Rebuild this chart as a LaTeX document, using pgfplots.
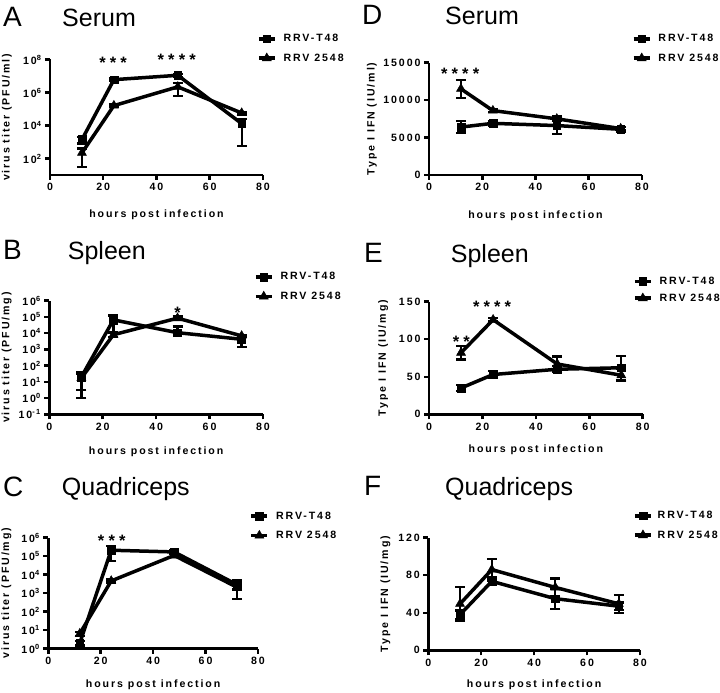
\documentclass[border=0pt]{standalone}
\usepackage{fontspec}
\setmainfont{Liberation Sans}
\newfontfamily\lab[LetterSpace=18]{Liberation Sans}
\newfontfamily\starf[LetterSpace=25]{Liberation Sans}
\usepackage{pgfplots}
\pgfplotsset{compat=1.18}
\usepackage{pgfplotstable}

% ---- data: x, mean, error plus, error minus ----
\pgfplotstableread{
x y ep em
12 1400 600 600
24 6e6 1e6 1e6
48 1.1e7 2e6 2e6
72 1.3e4 1.24e4 1.24e4
}\Asq
\pgfplotstableread{
x y ep em
12 220 190 190
24 1.6e5 3e4 3e4
48 2.2e6 1.6e6 1.6e6
72 5.7e4 1e4 1e4
}\Atr
\pgfplotstableread{
x y ep em
12 20 17 17
24 6.6e4 5.4e4 5.4e4
48 1.07e4 1.5e4 0
72 4.2e3 2.75e3 2.75e3
}\Bsq
\pgfplotstableread{
x y ep em
12 17 16 16
24 8e3 2e3 2e3
48 8.4e4 2e4 2e4
72 6.8e3 1e3 1e3
}\Btr
\pgfplotstableread{
x y ep em
12 2 0.5 0.5
24 2.1e5 1.55e5 1.55e5
48 1.7e5 3e4 3e4
72 2.9e3 2.4e3 2.4e3
}\Csq
\pgfplotstableread{
x y ep em
12 6.5 1.5 1.5
24 4.6e3 800 800
48 1.1e5 2e4 2e4
72 2.1e3 500 500
}\Ctr
\pgfplotstableread{
x y ep em
12 6400 800 800
24 6900 300 300
48 6600 1100 1100
72 6100 300 300
}\Dsq
\pgfplotstableread{
x y ep em
12 11500 1200 1200
24 8600 200 200
48 7500 300 300
72 6200 200 200
}\Dtr
\pgfplotstableread{
x y ep em
12 35 4 4
24 53 5 5
48 60 4 4
72 62 16 16
}\Esq
\pgfplotstableread{
x y ep em
12 82 9 9
24 126 2 2
48 67 10 10
72 52 8 8
}\Etr
\pgfplotstableread{
x y ep em
12 38 4.5 4.5
24 73.5 4 4
48 55 11 11
72 47 4 4
}\Fsq
\pgfplotstableread{
x y ep em
12 49.5 18 18
24 86 11.5 11.5
48 67 9.5 9.5
72 49.5 9.5 9.5
}\Ftr

\newcommand\labfont{\lab\bfseries\fontsize{10.6}{12}\selectfont}
\newcommand\starfont{\starf\bfseries\fontsize{16.5}{16}\selectfont}

\pgfplotsset{
  panel/.style={
    scale only axis,
    anchor=south west,
    xmin=0, xmax=80, xtick={0,20,40,60,80},
    axis x line*=bottom, axis y line*=left,
    axis line style={line width=2.5pt, -},
    tick align=outside,
    major tick length=5pt,
    every tick/.style={line width=2.5pt, black},
    tick label style={font=\labfont},
    /pgf/number format/assume math mode=true,
    /pgf/number format/1000 sep={},
    label style={font=\labfont},
    xlabel={hours post infection},
    yminorticks=false, xminorticks=false,
    clip=false,
    legend style={draw=none, fill=none, anchor=north west, inner sep=0pt, outer sep=0pt, font=\labfont, row sep=6.5pt, cells={anchor=west},
      /tikz/every odd column/.append style={column sep=5pt}},
    legend image code/.code={\draw[##1, mark repeat=2, mark phase=2] plot coordinates {(0pt,0pt) (8pt,0pt) (16pt,0pt)};},
  },
  pl/.style={black, line width=3.5pt,
    error bars/y dir=both, error bars/y explicit,
    error bars/error bar style={line width=2.3pt, solid, black},
    error bars/error mark options={rotate=90, mark size=5pt, line width=2.3pt, black}},
  sq/.style={pl, mark=square*, mark size=3.9pt, mark options={solid, fill=black, line width=0.5pt}},
  tri/.style={pl, mark=triangle*, mark size=5.2pt, mark options={solid, fill=black, line width=0.5pt}},
}

\newcommand\series[2]{%
  \addplot[sq] table[x=x, y=y, y error plus=ep, y error minus=em] {#1};
  \addlegendentry{RRV-T48}
  \addplot[tri] table[x=x, y=y, y error plus=ep, y error minus=em] {#2};
  \addlegendentry{RRV 2548}
}

\begin{document}
\begin{tikzpicture}
\useasboundingbox (0,0) rectangle (720pt,693pt);

% ---------- titles ----------
\node[anchor=base west, inner sep=0pt, font=\fontsize{28}{28}\selectfont] at (3pt,666pt) {A};
\node[anchor=base west, inner sep=0pt, font=\fontsize{25}{25}\selectfont] at (62pt,666pt) {Serum};
\node[anchor=base west, inner sep=0pt, font=\fontsize{28}{28}\selectfont] at (362pt,668pt) {D};
\node[anchor=base west, inner sep=0pt, font=\fontsize{25}{25}\selectfont] at (445pt,668pt) {Serum};
\node[anchor=base west, inner sep=0pt, font=\fontsize{28}{28}\selectfont] at (3pt,433.7pt) {B};
\node[anchor=base west, inner sep=0pt, font=\fontsize{25}{25}\selectfont] at (67.7pt,433.7pt) {Spleen};
\node[anchor=base west, inner sep=0pt, font=\fontsize{28}{28}\selectfont] at (364pt,430.3pt) {E};
\node[anchor=base west, inner sep=0pt, font=\fontsize{25}{25}\selectfont] at (450.7pt,430.3pt) {Spleen};
\node[anchor=base west, inner sep=0pt, font=\fontsize{28}{28}\selectfont] at (3pt,196pt) {C};
\node[anchor=base west, inner sep=0pt, font=\fontsize{25}{25}\selectfont] at (61.7pt,197pt) {Quadriceps};
\node[anchor=base west, inner sep=0pt, font=\fontsize{28}{28}\selectfont] at (364pt,197.7pt) {F};
\node[anchor=base west, inner sep=0pt, font=\fontsize{25}{25}\selectfont] at (445pt,197.7pt) {Quadriceps};

% ---------- A ----------
\begin{axis}[panel, at={(50pt,518pt)}, width=213pt, height=115.5pt,
  ymode=log, ymin=10, ymax=1e8,
  ytick={1e2,1e4,1e6,1e8},
  yticklabels={10\textsuperscript{2},10\textsuperscript{4},10\textsuperscript{6},10\textsuperscript{8}},
  ylabel={virus titer (PFU/ml)},
  ylabel style={at={(axis description cs:-0.202,0.5)}, anchor=center},
  xlabel style={at={(axis description cs:0.5,-0.346)}, anchor=center},
  legend style={at={(0.972,1.235)}}]
\series{\Asq}{\Atr}
\node[font=\starfont, anchor=base, yshift=-9pt] at (axis cs:23.7,1e8) {***};
\node[font=\starfont, anchor=base, yshift=-9pt] at (axis cs:47.6,1.44e8) {****};
\end{axis}

% ---------- D ----------
\begin{axis}[panel, at={(429pt,518pt)}, width=213pt, height=112.3pt,
  ymin=0, ymax=15000, ytick={0,5000,10000,15000},
  scaled y ticks=false,
  ylabel={Type I IFN (IU/ml)},
  ylabel style={at={(axis description cs:-0.268,0.5)}, anchor=center},
  xlabel style={at={(axis description cs:0.5,-0.365)}, anchor=center},
  legend style={at={(0.953,1.27)}}]
\series{\Dsq}{\Dtr}
\node[font=\starfont, anchor=base, yshift=-9pt] at (axis cs:11.7,13930) {****};
\end{axis}

% ---------- B ----------
\begin{axis}[panel, at={(49.3pt,278.7pt)}, width=213.7pt, height=113.6pt,
  ymode=log, ymin=0.1, ymax=1e6,
  ytick={1e-1,1e0,1e1,1e2,1e3,1e4,1e5,1e6},
  yticklabels={10\textsuperscript{-1},10\textsuperscript{0},10\textsuperscript{1},10\textsuperscript{2},10\textsuperscript{3},10\textsuperscript{4},10\textsuperscript{5},10\textsuperscript{6}},
  ylabel={virus titer (PFU/mg)},
  ylabel style={at={(axis description cs:-0.199,0.5)}, anchor=center},
  xlabel style={at={(axis description cs:0.5,-0.326)}, anchor=center},
  legend style={at={(0.958,1.265)}}]
\series{\Bsq}{\Btr}
\node[font=\starfont, anchor=base, yshift=-9pt] at (axis cs:48,2.8e5) {*};
\end{axis}

% ---------- E ----------
\begin{axis}[panel, at={(429pt,278.7pt)}, width=213.7pt, height=112.6pt,
  ymin=0, ymax=150, ytick={0,50,100,150},
  ylabel={Type I IFN (IU/mg)},
  ylabel style={at={(axis description cs:-0.215,0.5)}, anchor=center},
  xlabel style={at={(axis description cs:0.5,-0.311)}, anchor=center},
  legend style={at={(0.955,1.238)}, row sep=4pt}]
\series{\Esq}{\Etr}
\node[font=\starfont, anchor=base, yshift=-9pt] at (axis cs:12.1,101) {**};
\node[font=\starfont, anchor=base, yshift=-9pt] at (axis cs:23.6,147) {****};
\end{axis}

% ---------- C ----------
\begin{axis}[panel, at={(48.3pt,44.3pt)}, width=209.7pt, height=111pt,
  ymode=log, ymin=1, ymax=1e6,
  ytick={1e0,1e1,1e2,1e3,1e4,1e5,1e6},
  yticklabels={10\textsuperscript{0},10\textsuperscript{1},10\textsuperscript{2},10\textsuperscript{3},10\textsuperscript{4},10\textsuperscript{5},10\textsuperscript{6}},
  ylabel={virus titer (PFU/mg)},
  ylabel style={at={(axis description cs:-0.2,0.5)}, anchor=center},
  xlabel style={at={(axis description cs:0.5,-0.324)}, anchor=center},
  legend style={at={(0.96,1.252)}}]
\series{\Csq}{\Ctr}
\node[font=\starfont, anchor=base, yshift=-9pt] at (axis cs:24.2,1.03e6) {***};
\end{axis}

% ---------- F ----------
\begin{axis}[panel, at={(428.3pt,42.7pt)}, width=211.7pt, height=112.6pt,
  ymin=0, ymax=120, ytick={0,40,80,120},
  ylabel={Type I IFN (IU/mg)},
  ylabel style={at={(axis description cs:-0.203,0.5)}, anchor=center},
  xlabel style={at={(axis description cs:0.5,-0.306)}, anchor=center},
  legend style={at={(0.968,1.252)}, /tikz/every odd column/.append style={column sep=3pt}}]
\series{\Fsq}{\Ftr}
\end{axis}
\end{tikzpicture}
\end{document}
